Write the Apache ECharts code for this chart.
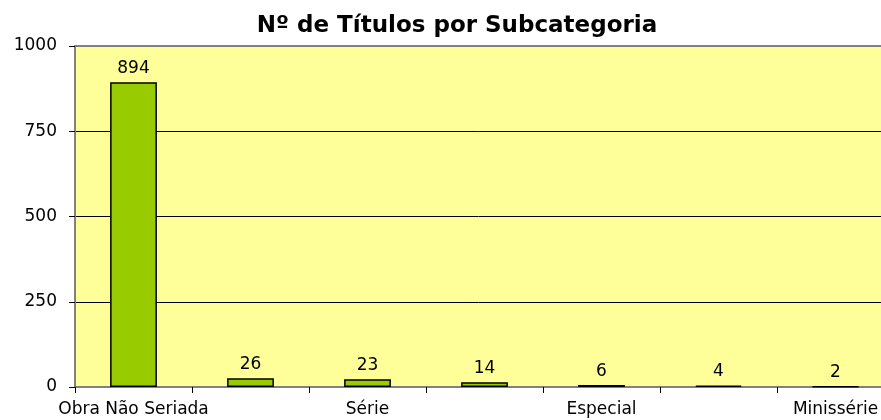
<!DOCTYPE html>
<html>
<head>
<meta charset="utf-8">
<script src="https://cdn.jsdelivr.net/npm/echarts@6/dist/echarts.min.js"></script>
<style>
  html, body { margin: 0; padding: 0; background: #fff; }
  #main { width: 881px; height: 420px; }
</style>
</head>
<body>
<div id="main"></div>
<script>
var categories = ['Obra Não Seriada', 'Seriado', 'Série', 'Telefilme', 'Especial', 'Programa', 'Minissérie'];
var titulos = [894, 26, 23, 14, 6, 4, 2];
var yTicks = { min: 0, max: 1000, interval: 250 };

var myChart = echarts.init(document.getElementById('main'));
var font = '"DejaVu Sans", sans-serif';

var option = {
    animation: false,
    title: {
        text: 'Nº de Títulos por Subcategoria',
        left: 452,
        top: 10,
        textAlign: 'center',
        textStyle: {
            fontFamily: font,
            fontSize: 23,
            fontWeight: 'bold',
            color: '#000'
        }
    },
    grid: {
        left: 75,
        width: 819,
        top: 46,
        bottom: 33,
        outerBoundsMode: 'none',
        containLabel: false,
        show: true,
        backgroundColor: '#FFFF99',
        borderColor: '#808080',
        borderWidth: 2
    },
    xAxis: {
        type: 'category',
        data: categories,
        axisLine: { lineStyle: { color: '#808080', width: 1 } },
        axisTick: { show: true, interval: 0, length: 6, lineStyle: { color: '#000' } },
        axisLabel: {
            interval: 1,
            margin: 14,
            fontFamily: font,
            fontSize: 17,
            color: '#000'
        }
    },
    yAxis: {
        type: 'value',
        min: yTicks.min,
        max: yTicks.max,
        interval: yTicks.interval,
        axisLine: { show: true, lineStyle: { color: '#808080', width: 2 } },
        axisTick: { show: true, length: 6, lineStyle: { color: '#000' } },
        splitLine: {
            lineStyle: {
                color: ['#808080', '#000', '#000', '#000', '#808080'],
                width: 1
            }
        },
        axisLabel: {
            margin: 18,
            formatter: function (v) { return String(v); },
            fontFamily: font,
            fontSize: 17,
            color: '#000'
        }
    },
    series: [{
        type: 'bar',
        data: titulos,
        barWidth: '40%',
        itemStyle: {
            color: '#99CC00',
            borderColor: '#000',
            borderWidth: 1.5
        },
        label: {
            show: true,
            position: 'top',
            distance: 5,
            fontFamily: font,
            fontSize: 17,
            color: '#000'
        }
    }]
};

myChart.setOption(option);
</script>
</body>
</html>
